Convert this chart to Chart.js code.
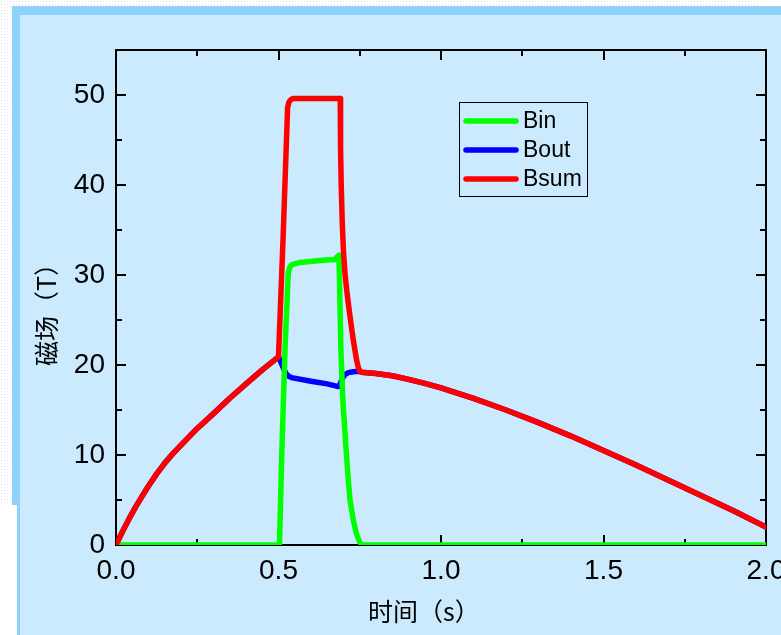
<!DOCTYPE html>
<html>
<head>
<meta charset="utf-8">
<script src="https://cdn.jsdelivr.net/npm/chart.js@4.4.1/dist/chart.umd.min.js"></script>
<style>
  html, body { margin: 0; padding: 0; width: 781px; height: 635px; overflow: hidden; background: #fff; }
  .trama { position: absolute; background-color: #fff;
    background-image: radial-gradient(#dfe3ec 0.8px, transparent 0.9px);
    background-size: 3px 3px; }
  #panel { position: absolute; left: 12px; top: 6px; right: 0; bottom: 0;
    border-top: 9px solid #8ed2fb; border-left: 8px solid #8ed2fb; background: #cceafd; }
  #tapa { position: absolute; left: 0; top: 505px; width: 17px; height: 130px; background: #fff; }
  #grafico { position: absolute; left: 0; top: 0; }
</style>
</head>
<body>
<div class="trama" style="left:0;top:0;width:760px;height:6px"></div>
<div class="trama" style="left:0;top:0;width:12px;height:505px"></div>
<div id="panel"></div>
<div id="tapa"></div>
<canvas id="grafico" width="781" height="635"></canvas>
<script>
// Datos (tiempo en s, campo en T)
const tBin = [0, 0.503, 0.51, 0.52, 0.53, 0.535, 0.542, 0.566, 0.628, 0.658, 0.672, 0.686, 0.689, 0.692, 0.698, 0.708, 0.714, 0.72, 0.73, 0.74, 0.75, 0.756, 2.0];
const vBin = [0, 0, 10, 21.7, 30.2, 30.9, 31.15, 31.4, 31.6, 31.7, 31.7, 32.2, 27, 21.7, 16.1, 10.6, 7.6, 5, 2.8, 1.2, 0.3, 0, 0];

const tBout = [0, 0.02, 0.04, 0.06, 0.08, 0.1, 0.125, 0.15, 0.175, 0.2, 0.25, 0.3, 0.35, 0.4, 0.45, 0.5,
    0.503, 0.51, 0.518, 0.525, 0.532, 0.54, 0.6, 0.65, 0.684, 0.688, 0.693, 0.698, 0.705, 0.715, 0.73, 0.745, 0.755,
    0.8, 0.85, 0.9, 0.95, 1.0, 1.1, 1.2, 1.3, 1.4, 1.5, 1.6, 1.7, 1.8, 1.9, 2.0];
const vBout = [0, 1.5, 2.9, 4.2, 5.4, 6.55, 7.9, 9.1, 10.15, 11.1, 12.95, 14.6, 16.3, 17.9, 19.45, 20.9,
    20.7, 20.1, 19.4, 18.95, 18.75, 18.6, 18.2, 17.9, 17.6, 17.75, 18.2, 18.6, 18.95, 19.15, 19.25, 19.3, 19.2,
    19.05, 18.8, 18.4, 17.95, 17.45, 16.3, 15.0, 13.6, 12.1, 10.5, 8.9, 7.2, 5.5, 3.8, 2.0];

const tBsum = [0, 0.02, 0.04, 0.06, 0.08, 0.1, 0.125, 0.15, 0.175, 0.2, 0.25, 0.3, 0.35, 0.4, 0.45, 0.5,
    0.514, 0.528, 0.532, 0.538, 0.545, 0.6, 0.65, 0.69, 0.691, 0.693, 0.696, 0.7, 0.705, 0.71, 0.715, 0.72, 0.725,
    0.73, 0.735, 0.74, 0.745, 0.75, 0.755, 0.8, 0.85, 0.9, 0.95, 1.0, 1.1, 1.2, 1.3, 1.4, 1.5, 1.6, 1.7, 1.8, 1.9, 2.0];
const vBsum = [0, 1.5, 2.9, 4.2, 5.4, 6.55, 7.9, 9.1, 10.15, 11.1, 12.95, 14.6, 16.3, 17.9, 19.45, 20.9,
    34, 48.6, 49.2, 49.5, 49.6, 49.6, 49.6, 49.6, 44, 40, 36, 32.5, 30, 28.3, 26.8, 25.4, 24.1,
    22.8, 21.7, 20.6, 19.8, 19.3, 19.2, 19.05, 18.8, 18.4, 17.95, 17.45, 16.3, 15.0, 13.6, 12.1, 10.5, 8.9, 7.2, 5.5, 3.8, 2.0];

// Marcas de los ejes
const xTicks = [0, 0.5, 1.0, 1.5, 2.0];
const xMenores = [0.25, 0.75, 1.25, 1.75];
const yTicks = [0, 10, 20, 30, 40, 50];
const yMenores = [5, 15, 25, 35, 45];

const tituloX = '时间（s）';
const tituloY = '磁场（T）';

function puntos(ts, vs) {
    return ts.map((t, i) => ({ x: t, y: vs[i] }));
}

function serie(label, ts, vs, color, orden) {
    return {
        label: label,
        data: puntos(ts, vs),
        borderColor: color,
        backgroundColor: color,
        borderWidth: 5.5,
        pointRadius: 0,
        tension: 0,
        borderJoinStyle: 'round',
        borderCapStyle: 'round',
        order: orden
    };
}

// Marco, marcas hacia dentro, titulos y leyenda
const marcoPlugin = {
    id: 'marco',
    beforeDatasetsDraw(chart) {
        const ctx = chart.ctx;
        const a = chart.chartArea;
        const sx = chart.scales.x;
        const sy = chart.scales.y;
        ctx.save();
        ctx.strokeStyle = '#000';
        ctx.lineWidth = 2;
        ctx.strokeRect(a.left, a.top, a.right - a.left, a.bottom - a.top);

        const marcaX = (v, largo) => {
            const px = Math.round(sx.getPixelForValue(v));
            ctx.beginPath();
            ctx.moveTo(px, a.bottom); ctx.lineTo(px, a.bottom - largo);
            ctx.moveTo(px, a.top); ctx.lineTo(px, a.top + largo);
            ctx.stroke();
        };
        const marcaY = (v, largo) => {
            const py = Math.round(sy.getPixelForValue(v));
            ctx.beginPath();
            ctx.moveTo(a.left, py); ctx.lineTo(a.left + largo, py);
            ctx.moveTo(a.right, py); ctx.lineTo(a.right - largo, py);
            ctx.stroke();
        };
        xTicks.forEach(v => marcaX(v, 10));
        xMenores.forEach(v => marcaX(v, 6));
        yTicks.forEach(v => marcaY(v, 10));
        yMenores.forEach(v => marcaY(v, 6));

        // Titulos de los ejes
        ctx.fillStyle = '#000';
        ctx.font = '25px "Noto Sans CJK SC"';
        ctx.textBaseline = 'middle';
        ctx.textAlign = 'left';
        ctx.fillText(tituloX, 368, 611);
        ctx.translate(46, 366);
        ctx.rotate(-Math.PI / 2);
        ctx.fillText(tituloY, 0, 0);
        ctx.restore();
    },
    afterDraw(chart) {
        const ctx = chart.ctx;
        const orden = ['Bin', 'Bout', 'Bsum'];
        ctx.save();
        ctx.strokeStyle = '#000';
        ctx.lineWidth = 1;
        ctx.strokeRect(459.5, 102.5, 128, 94);
        ctx.font = '23px "Liberation Sans", Arial, sans-serif';
        ctx.textBaseline = 'middle';
        ctx.fillStyle = '#000';
        orden.forEach((nombre, i) => {
            const ds = chart.data.datasets.find(d => d.label === nombre);
            const y = 121 + i * 29;
            ctx.strokeStyle = ds.borderColor;
            ctx.lineWidth = 5.5;
            ctx.lineCap = 'round';
            ctx.beginPath();
            ctx.moveTo(466, y);
            ctx.lineTo(516, y);
            ctx.stroke();
            ctx.fillText(nombre, 523, y + 1);
        });
        ctx.restore();
    }
};

const ctx = document.getElementById('grafico').getContext('2d');
const miGrafico = new Chart(ctx, {
    type: 'line',
    data: {
        datasets: [
            serie('Bin', tBin, vBin, '#00ff00', 1),
            serie('Bout', tBout, vBout, '#0000ff', 2),
            serie('Bsum', tBsum, vBsum, '#ff0000', 0)
        ]
    },
    options: {
        responsive: false,
        animation: false,
        devicePixelRatio: 1,
        layout: { padding: { top: 50, right: 15, left: 0, bottom: 0 } },
        plugins: {
            legend: { display: false },
            tooltip: { enabled: false }
        },
        scales: {
            x: {
                type: 'linear',
                min: 0,
                max: 2,
                grid: { display: false, drawTicks: false },
                border: { display: false },
                afterBuildTicks: s => { s.ticks = xTicks.map(v => ({ value: v })); },
                afterFit: s => { s.height = 90; s.paddingLeft = 0; s.paddingRight = 0; },
                ticks: {
                    color: '#000',
                    padding: 9,
                    maxRotation: 0,
                    font: { family: '"Liberation Sans", Arial, sans-serif', size: 28 },
                    callback: v => v.toFixed(1)
                }
            },
            y: {
                min: 0,
                max: 55,
                grid: { display: false, drawTicks: false },
                border: { display: false },
                afterBuildTicks: s => { s.ticks = yTicks.map(v => ({ value: v })); },
                afterFit: s => { s.width = 116; },
                ticks: {
                    color: '#000',
                    padding: 11,
                    font: { family: '"Liberation Sans", Arial, sans-serif', size: 28 },
                    callback: v => String(v)
                }
            }
        }
    },
    plugins: [marcoPlugin]
});
</script>
</body>
</html>
